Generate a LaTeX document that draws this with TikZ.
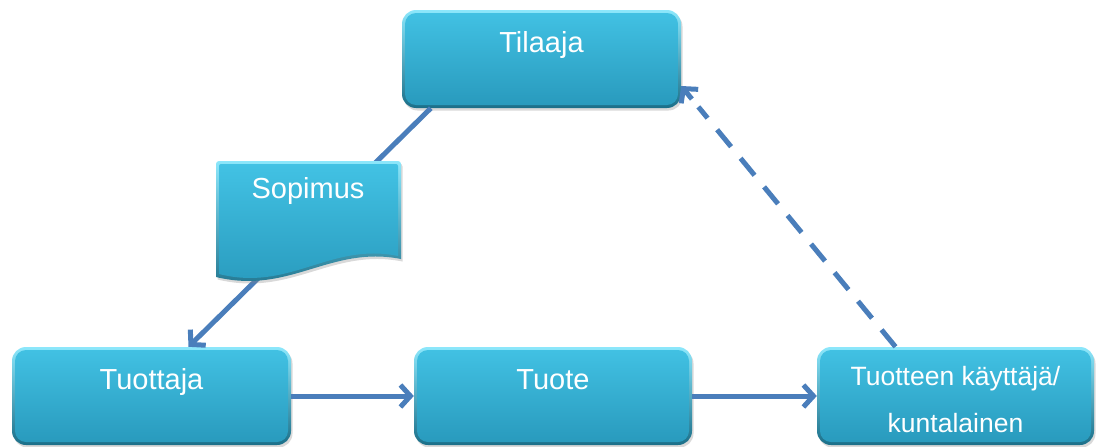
\documentclass[tikz,border=0pt]{standalone}
\usepackage{fontspec}
\setmainfont{Liberation Sans}
\usetikzlibrary{arrows.meta,calc,shadows}
\definecolor{boxtop}{HTML}{42C2E4}
\definecolor{boxbot}{HTML}{2899BC}
\definecolor{rimtop}{HTML}{8CE7FB}
\definecolor{rimbot}{HTML}{1B6F89}
\definecolor{linkblue}{HTML}{4A7EBB}

\tikzset{
  actor/.style={rounded corners=14pt, minimum width=279pt, minimum height=98pt,
    top color=rimtop, bottom color=rimbot, draw=none,
    drop shadow={opacity=0.3, shadow xshift=1.5pt, shadow yshift=-2.5pt},
    path picture={\shade[top color=boxtop, bottom color=boxbot, rounded corners=11pt]
      ([shift={(3,3)}]path picture bounding box.north west) rectangle
      ([shift={(-3,-3)}]path picture bounding box.south east);}},
  boxtext/.style={text=white, font=\fontsize{29}{34}\selectfont, anchor=base, inner sep=0pt},
  wire/.style={draw=linkblue, line width=5pt},
  link/.style={wire, -{Straight Barb[length=10pt,width=22pt]}},
}

\begin{document}
\begin{tikzpicture}[x=1pt, y=-1pt]
  \useasboundingbox (0,0) rectangle (1096,447);

  % the four parties
  \node[actor] (tilaaja)  at (541.5,59)  {};
  \node[actor] (tuottaja) at (151.5,396) {};
  \node[actor, minimum width=278pt] (tuote) at (553,396) {};
  \node[actor, minimum width=277pt] (kayttaja) at (955.5,396) {};

  % end points of the feedback connector
  \coordinate (fbstart) at ($(kayttaja.north)+(-60,0)$);
  \coordinate (fbend)   at ($(tilaaja.east)+(0,27)$);

  % connectors
  \draw[link] ($(tilaaja.south west)+(29,0)$) -- ($(tuottaja.north)+(37,0)$);
  \draw[link] (tuottaja.east) -- (tuote.west);
  \draw[link] (tuote.east) -- (kayttaja.west);
  \draw[wire, dash pattern=on 22pt off 15pt] (fbstart) -- ($(fbstart)!0.92!(fbend)$);
  \draw[link] ($(fbstart)!0.95!(fbend)$) -- (fbend);

  % contract document with wavy lower edge
  \path[top color=rimtop, bottom color=rimbot,
        drop shadow={opacity=0.3, shadow xshift=1.5pt, shadow yshift=-2.5pt}]
    (216,266) [rounded corners=3pt] -- (216,161) -- (401,161) [sharp corners] -- (401,259)
    .. controls (330,245) and (290,295) .. (216,277) -- cycle;
  \shade[top color=boxtop, bottom color=boxbot]
    (219,264) [rounded corners=2pt] -- (219,164) -- (398,164) [sharp corners] -- (398,256)
    .. controls (330,242) and (290,292) .. (219,274) -- cycle;

  % texts
  \node[boxtext] (tilaajatxt)  at (541.5,52) {Tilaaja};
  \node[boxtext] (sopimustxt)  at (308,198)  {Sopimus};
  \node[boxtext] (tuottajatxt) at (151.5,389) {Tuottaja};
  \node[boxtext] (tuotetxt)    at (553,389)  {Tuote};
  \node[boxtext, font=\fontsize{26.5}{30}\selectfont] (kayttajatxt1) at (955.5,385) {Tuotteen käyttäjä/};
  \node[boxtext, font=\fontsize{26.5}{30}\selectfont] (kayttajatxt2) at (955.5,432) {kuntalainen};
\end{tikzpicture}
\end{document}
